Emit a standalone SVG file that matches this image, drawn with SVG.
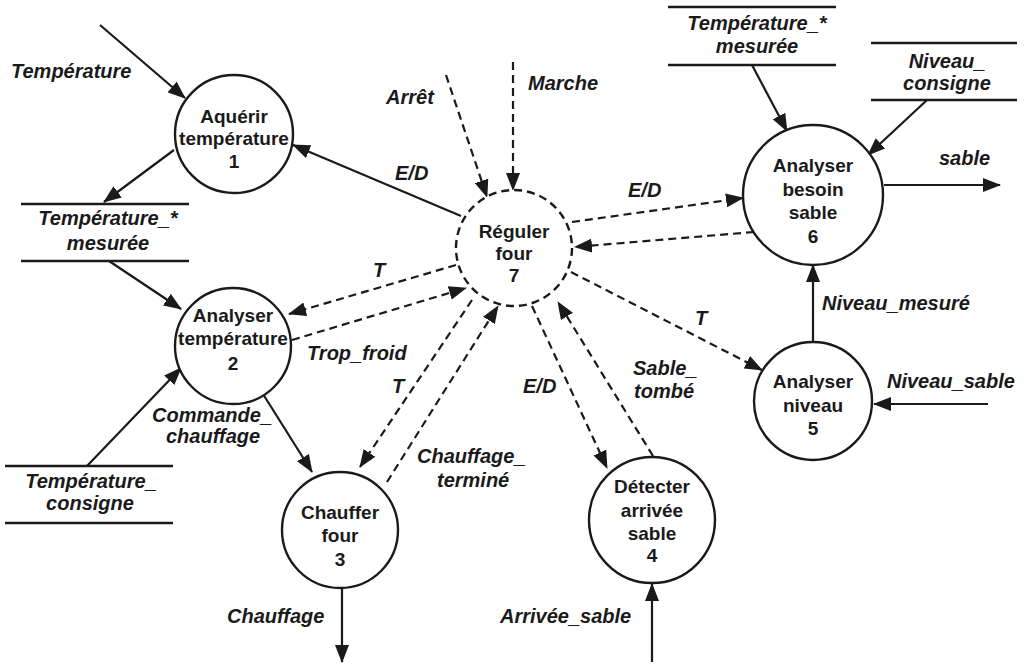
<svg xmlns="http://www.w3.org/2000/svg" width="1033" height="667" viewBox="0 0 1033 667">
  <style>
    .bg { fill: #ffffff; }
    .proc { fill: #ffffff; stroke: #1a1a1a; stroke-width: 2.4; }
    .ctrl { fill: #ffffff; stroke: #1a1a1a; stroke-width: 2.4; stroke-dasharray: 8 5; }
    .ptxt { font-family: "Liberation Sans", Arial, sans-serif; font-weight: bold; font-size: 19px; fill: #1a1a1a; text-anchor: middle; }
    .lbl { font-family: "Liberation Sans", Arial, sans-serif; font-weight: bold; font-style: italic; font-size: 20px; fill: #1a1a1a; }
    .store line { stroke: #1a1a1a; stroke-width: 2.4; }
    .stxt { font-family: "Liberation Sans", Arial, sans-serif; font-weight: bold; font-style: italic; font-size: 20px; fill: #1a1a1a; text-anchor: middle; }
    .flow { fill: none; stroke: #1a1a1a; stroke-width: 2.2; marker-end: url(#arrow); }
    .cflow { fill: none; stroke: #1a1a1a; stroke-width: 2.2; stroke-dasharray: 8 5; marker-end: url(#arrow); }
  </style>
  <defs>
    <marker id="arrow" viewBox="0 0 18 14" refX="17" refY="7" markerWidth="18" markerHeight="14" markerUnits="userSpaceOnUse" orient="auto">
      <path d="M0,0 L18,7 L0,14 z" fill="#1a1a1a"/>
    </marker>
  </defs>
  <rect class="bg" x="0" y="0" width="1033" height="667"/>

  <!-- flows and control flows -->
  <g id="connectors">
    <line class="flow" x1="100" y1="25" x2="185" y2="98"/>
    <line class="flow" x1="174" y1="150" x2="104" y2="202"/>
    <line class="flow" x1="461" y1="216" x2="293" y2="145"/>
    <line class="cflow" x1="446" y1="75" x2="487" y2="197"/>
    <line class="cflow" x1="513" y1="62" x2="513" y2="190"/>
    <line class="cflow" x1="572" y1="222" x2="743" y2="198"/>
    <line class="cflow" x1="754" y1="232" x2="575" y2="247"/>
    <line class="cflow" x1="456" y1="265" x2="289" y2="314"/>
    <line class="cflow" x1="292" y1="340" x2="466" y2="288"/>
    <line class="cflow" x1="472" y1="300" x2="360" y2="467"/>
    <line class="cflow" x1="387" y1="482" x2="498" y2="306"/>
    <line class="cflow" x1="532" y1="306" x2="607" y2="468"/>
    <line class="cflow" x1="653" y1="456" x2="558" y2="302"/>
    <line class="cflow" x1="571" y1="272" x2="762" y2="370"/>
    <line class="flow" x1="813" y1="342" x2="813" y2="265"/>
    <line class="flow" x1="988" y1="404" x2="874" y2="404"/>
    <line class="flow" x1="884" y1="185" x2="1000" y2="185"/>
    <line class="flow" x1="752" y1="65" x2="787" y2="131"/>
    <line class="flow" x1="927" y1="100" x2="868" y2="155"/>
    <line class="flow" x1="109" y1="261" x2="181" y2="309"/>
    <line class="flow" x1="87" y1="466" x2="181" y2="368"/>
    <line class="flow" x1="263" y1="394" x2="312" y2="472"/>
    <line class="flow" x1="342" y1="588" x2="342" y2="662"/>
    <line class="flow" x1="652" y1="662" x2="652" y2="584"/>
  </g>

  <!-- flow labels -->
  <g id="labels">
    <text class="lbl" x="11" y="78">Température</text>
    <text class="lbl" x="395" y="180">E/D</text>
    <text class="lbl" x="386" y="104">Arrêt</text>
    <text class="lbl" x="528" y="90">Marche</text>
    <text class="lbl" x="628" y="197">E/D</text>
    <text class="lbl" x="373" y="277">T</text>
    <text class="lbl" x="307" y="360">Trop_froid</text>
    <text class="lbl" x="392" y="393">T</text>
    <text class="lbl" x="417" y="463">Chauffage_</text>
    <text class="lbl" x="437" y="487">terminé</text>
    <text class="lbl" x="523" y="393">E/D</text>
    <text class="lbl" x="633" y="375">Sable_</text>
    <text class="lbl" x="634" y="398">tombé</text>
    <text class="lbl" x="695" y="325">T</text>
    <text class="lbl" x="822" y="310">Niveau_mesuré</text>
    <text class="lbl" x="887" y="388">Niveau_sable</text>
    <text class="lbl" x="939" y="165">sable</text>
    <text class="lbl" x="152" y="422">Commande_</text>
    <text class="lbl" x="166" y="443">chauffage</text>
    <text class="lbl" x="227" y="623">Chauffage</text>
    <text class="lbl" x="500" y="623">Arrivée_sable</text>
  </g>

  <!-- data stores -->
  <g id="store-temp-mesuree-left" class="store">
    <line x1="21" y1="204" x2="189" y2="204"/>
    <line x1="21" y1="261" x2="189" y2="261"/>
    <text class="stxt" x="108" y="225">Température_*</text>
    <text class="stxt" x="108" y="250">mesurée</text>
  </g>
  <g id="store-temp-consigne" class="store">
    <line x1="5" y1="466" x2="173" y2="466"/>
    <line x1="5" y1="523" x2="173" y2="523"/>
    <text class="stxt" x="91" y="488">Température_</text>
    <text class="stxt" x="90" y="510">consigne</text>
  </g>
  <g id="store-temp-mesuree-right" class="store">
    <line x1="668" y1="7" x2="836" y2="7"/>
    <line x1="668" y1="65" x2="836" y2="65"/>
    <text class="stxt" x="757" y="30">Température_*</text>
    <text class="stxt" x="757" y="53">mesurée</text>
  </g>
  <g id="store-niveau-consigne" class="store">
    <line x1="871" y1="43" x2="1017" y2="43"/>
    <line x1="871" y1="100" x2="1017" y2="100"/>
    <text class="stxt" x="947" y="68">Niveau_</text>
    <text class="stxt" x="947" y="90">consigne</text>
  </g>

  <!-- processes -->
  <g id="p1">
    <circle class="proc" cx="234" cy="134" r="59"/>
    <text class="ptxt" x="234" y="123">Aquérir</text>
    <text class="ptxt" x="234" y="145">température</text>
    <text class="ptxt" x="234" y="168">1</text>
  </g>
  <g id="p2">
    <circle class="proc" cx="233" cy="346" r="58"/>
    <text class="ptxt" x="233" y="322">Analyser</text>
    <text class="ptxt" x="233" y="345">température</text>
    <text class="ptxt" x="233" y="370">2</text>
  </g>
  <g id="p3">
    <circle class="proc" cx="340" cy="530" r="58"/>
    <text class="ptxt" x="340" y="519">Chauffer</text>
    <text class="ptxt" x="340" y="542">four</text>
    <text class="ptxt" x="340" y="566">3</text>
  </g>
  <g id="p4">
    <circle class="proc" cx="652" cy="520" r="63"/>
    <text class="ptxt" x="652" y="493">Détecter</text>
    <text class="ptxt" x="652" y="517">arrivée</text>
    <text class="ptxt" x="652" y="540">sable</text>
    <text class="ptxt" x="652" y="562">4</text>
  </g>
  <g id="p5">
    <circle class="proc" cx="813" cy="401" r="59"/>
    <text class="ptxt" x="813" y="388">Analyser</text>
    <text class="ptxt" x="813" y="412">niveau</text>
    <text class="ptxt" x="813" y="435">5</text>
  </g>
  <g id="p6">
    <circle class="proc" cx="813" cy="195" r="70"/>
    <text class="ptxt" x="813" y="172">Analyser</text>
    <text class="ptxt" x="813" y="196">besoin</text>
    <text class="ptxt" x="813" y="219">sable</text>
    <text class="ptxt" x="813" y="243">6</text>
  </g>
  <g id="p7">
    <circle class="ctrl" cx="514" cy="248" r="58"/>
    <text class="ptxt" x="514" y="238">Réguler</text>
    <text class="ptxt" x="514" y="260">four</text>
    <text class="ptxt" x="514" y="282">7</text>
  </g>
</svg>
